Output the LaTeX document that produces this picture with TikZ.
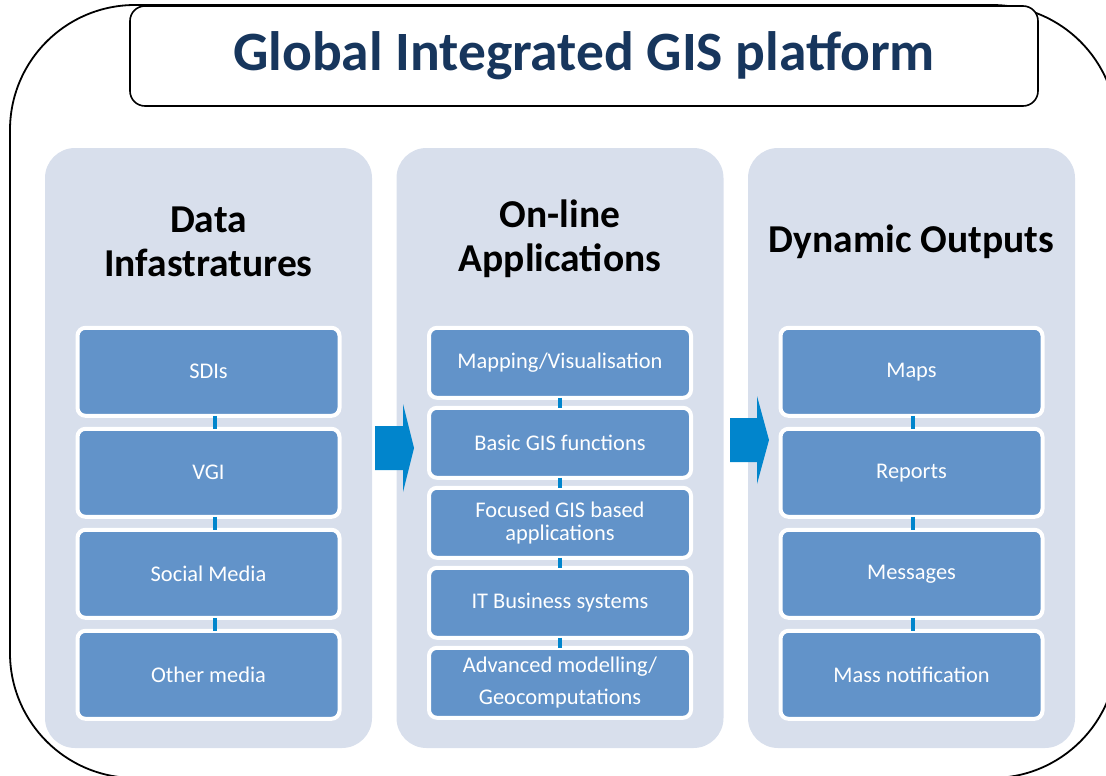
\documentclass[tikz,border=0pt]{standalone}
\usepackage{fontspec}
\setmainfont{Carlito}
\usetikzlibrary{positioning}
\definecolor{panefill}{RGB}{216,223,236}
\definecolor{itemblue}{RGB}{98,147,201}
\definecolor{linkblue}{RGB}{1,133,204}
\definecolor{titlenavy}{RGB}{23,54,93}

\begin{document}
\begin{tikzpicture}[
    x=1pt, y=-1pt,
    frame/.style={draw, line width=1.8pt, rounded corners=125pt},
    titlebox/.style={draw, line width=1.6pt, rounded corners=15pt, fill=white,
      minimum width=908pt, minimum height=100pt, text=titlenavy,
      font=\fontsize{55.5}{60}\selectfont\bfseries},
    panel/.style={fill=panefill, rounded corners=30pt, minimum width=327pt,
      minimum height=600pt},
    head/.style={align=center, font=\fontsize{39.5}{44}\selectfont\bfseries},
    item/.style={draw=white, line width=4pt, fill=itemblue, rounded corners=8pt,
      text=white, align=center, minimum width=262pt, minimum height=88pt,
      outer sep=0pt, font=\fontsize{22.4}{23}\selectfont},
    slim/.style={item, minimum height=70pt},
    link/.style={draw=linkblue, line width=4pt},
    flow/.style={fill=linkblue}
  ]
    \useasboundingbox (0,0) rectangle (1106,776);
    \clip (0,0) rectangle (1106,776);
    \draw[frame] (10,5) rectangle (1117,778);
    \node[titlebox] (title) at (584,56) {Global Integrated GIS platform};

    \node[panel] (data) at (208.5,448) {};
    \node[panel] (apps) at (560,448) {};
    \node[panel] (outs) at (911.5,448) {};
    \node[head] (datahead) at (208.5,242) {Data\\Infastratures};
    \node[head] (appshead) at (560,239) {On-line\\Applications};
    \node[head] (outshead) at (911.5,242) {Dynamic Outputs};

    % data infrastructures
    \node[item, below=180pt of data.north] (sdi) {SDIs};
    \node[item, below=13pt of sdi] (vgi) {VGI};
    \node[item, below=13pt of vgi] (social) {Social Media};
    \node[item, below=13pt of social] (other) {Other media};
    \draw[link] ([xshift=6pt]sdi.south) -- ([xshift=6pt]vgi.north);
    \draw[link] ([xshift=6pt]vgi.south) -- ([xshift=6pt]social.north);
    \draw[link] ([xshift=6pt]social.south) -- ([xshift=6pt]other.north);

    % applications
    \node[slim, below=180pt of apps.north] (mapping) {Mapping/Visualisation};
    \node[slim, below=10pt of mapping] (basic) {Basic GIS functions};
    \node[slim, below=10pt of basic] (focused) {Focused GIS based\\applications};
    \node[slim, below=10pt of focused] (itbiz) {IT Business systems};
    \node[slim, below=10pt of itbiz] (advanced) {Advanced modelling/\\[9pt]Geocomputations};
    \draw[link] (mapping) -- (basic);
    \draw[link] (basic) -- (focused);
    \draw[link] (focused) -- (itbiz);
    \draw[link] (itbiz) -- (advanced);

    % outputs
    \node[item, below=180pt of outs.north] (maps) {Maps};
    \node[item, below=13pt of maps] (reports) {Reports};
    \node[item, below=13pt of reports] (messages) {Messages};
    \node[item, below=13pt of messages] (massnote) {Mass notification};
    \draw[link] ([xshift=1pt]maps.south) -- ([xshift=1pt]reports.north);
    \draw[link] ([xshift=1pt]reports.south) -- ([xshift=1pt]messages.north);
    \draw[link] ([xshift=1pt]messages.south) -- ([xshift=1pt]massnote.north);

    % block arrows between the panels
    \coordinate (flowa) at (375,448);
    \coordinate (flowb) at (730,440);
    \fill[flow] (flowa) ++(0,-22) -- ++(28,0) -- ++(0,-22) -- ++(11,44)
      -- ++(-11,44) -- ++(0,-22) -- ++(-28,0) -- cycle;
    \fill[flow] (flowb) ++(0,-22) -- ++(27,0) -- ++(0,-22) -- ++(12,44)
      -- ++(-12,44) -- ++(0,-22) -- ++(-27,0) -- cycle;
  \end{tikzpicture}
\end{document}
